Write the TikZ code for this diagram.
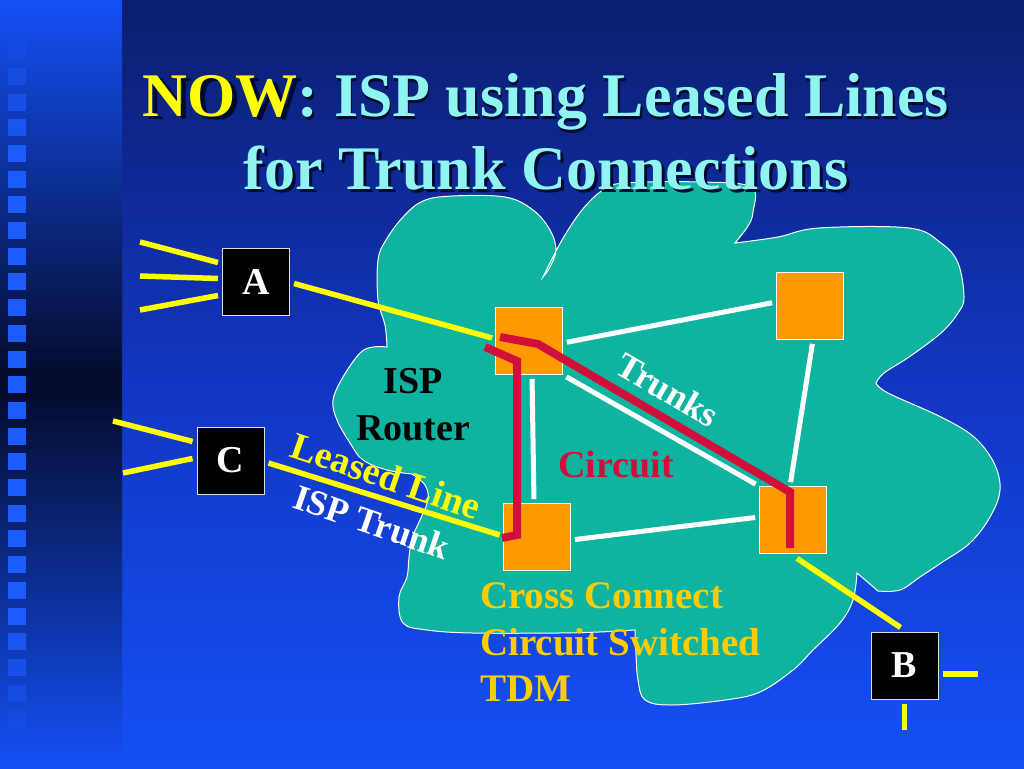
\documentclass[tikz,border=0pt]{standalone}
\usepackage{fontspec}
\setmainfont{Liberation Serif}
\usetikzlibrary{calc}
\definecolor{bgtop}{HTML}{0B1E6E}
\definecolor{bgmid}{HTML}{1236C2}
\definecolor{bgbot}{HTML}{1450F5}
\definecolor{stripbright}{HTML}{1450F5}
\definecolor{stripdark}{HTML}{040A28}
\definecolor{stripsq}{HTML}{1C5CFF}
\definecolor{cloudteal}{HTML}{0FB4A0}
\definecolor{sqorange}{HTML}{FF9900}
\definecolor{circred}{HTML}{D0103A}
\definecolor{yellowline}{HTML}{FFFF00}
\definecolor{titlecyan}{HTML}{90F4F0}
\definecolor{titleshadow}{HTML}{000A30}
\definecolor{goldtext}{HTML}{FFCC00}
\definecolor{boxborder}{HTML}{DDDDDD}
\begin{document}
\begin{tikzpicture}[x=1pt,y=-1pt,
  sq/.style={draw=white, line width=0.8pt, fill=sqorange, minimum size=67pt, inner sep=0pt},
  term/.style={draw=boxborder, line width=1pt, fill=black, minimum size=67pt, inner sep=0pt, text=white, font=\fontsize{38}{40}\selectfont\bfseries},
  trunk/.style={draw=white, line width=5pt, shorten <=4pt, shorten >=4pt},
  yel/.style={draw=yellowline, line width=5.5pt},
  circ/.style={draw=circred, line width=8pt, line join=miter},
  lbl/.style={font=\fontsize{38}{46}\selectfont\bfseries, inner sep=0pt},
  gold/.style={font=\fontsize{39}{46}\selectfont\bfseries, inner sep=0pt, text=goldtext, anchor=base west},
  ttl/.style={font=\fontsize{62}{74}\selectfont\bfseries, inner sep=0pt, anchor=base}]
\useasboundingbox (0,0) rectangle (1024,768);
% background
\shade[top color=bgtop, bottom color=bgbot, middle color=bgmid] (122,0) rectangle (1024,768);
\shade[top color=stripbright, bottom color=stripbright, middle color=stripdark] (0,0) rectangle (122,768);
\foreach \k in {-7,...,19}{
  \pgfmathsetmacro{\op}{min(1,min((\k+8)/5,(20-\k)/5))}
  \fill[stripsq, opacity=\op] (8,{222+25.7*\k}) rectangle (26,{239+25.7*\k});
}
% cloud
\draw[draw=white, line width=1pt, fill=cloudteal]
  plot[smooth, tension=0.6] coordinates {(387,347) (385,325) (378,300) (378,260) (386,240) (403,217) (423,201) (452,196) (505,197) (533,210) (550,230) (556,250) (550,267) (543,277)}
  -- plot[smooth, tension=0.6] coordinates {(543,277) (562,240) (582,210) (603,190) (625,183) (701,182) (751,187) (753,212) (748,226) (735,243)}
  -- plot[smooth, tension=0.6] coordinates {(735,243) (778,237) (819,228) (909,228) (941,243) (958,263) (964,297) (958,313) (941,333) (909,357) (884,373) (876,383)}
  -- plot[smooth, tension=0.6] coordinates {(876,383) (888,393) (941,417) (974,437) (994,463) (1000,490) (990,517) (970,543) (941,563) (920,577) (900,590) (878,591)}
  -- (857,573)
  -- plot[smooth, tension=0.6] coordinates {(857,573) (853,600) (840,623) (813,650) (793,670) (760,692) (725,700) (672,705) (645,700) (638,680) (636,655) (635,630)}
  -- plot[smooth, tension=0.6] coordinates {(635,630) (599,632) (558,633) (472,633) (427,630) (403,623) (399,597) (407,577) (409,557) (412,538) (420,520) (428,500) (425,485) (412,474)}
  -- plot[smooth, tension=0.6] coordinates {(412,474) (387,470) (363,460) (350,443) (337,420) (333,400) (343,377) (360,353) (373,347) (387,347)}
  -- cycle;
% title
\node[ttl, text=titleshadow] at (549,119) {NOW: ISP using Leased Lines};
\node[ttl, text=titlecyan] at (546,116) {\textcolor{yellowline}{NOW}: ISP using Leased Lines};
\node[ttl, text=titleshadow] at (549,192) {for Trunk Connections};
\node[ttl, text=titlecyan] at (546,189) {for Trunk Connections};
% switches
\node[sq] (isp) at (529,341) {};
\node[sq] (tr) at (810,306) {};
\node[sq] (bl) at (537,537) {};
\node[sq] (br) at (793,520) {};
% end systems
\node[term] (a) at (256,281.5) {A};
\node[term] (c) at (230.5,460.5) {C};
\node[term] (b) at (904.5,665.5) {B};
% trunks
\draw[trunk] ([shift={(0,2)}]isp.east) -- ([shift={(0,-4)}]tr.west);
\draw[trunk] ([shift={(3,0)}]isp.south) -- ([shift={(-3,0)}]bl.north);
\draw[trunk] (isp.south east) -- (br.north west);
\draw[trunk] ([shift={(3,0)}]tr.south) -- ([shift={(-3,0)}]br.north);
\draw[trunk] ([shift={(0,3)}]bl.east) -- ([shift={(0,-3)}]br.west);
% leased lines
\coordinate (a1) at (140,242);
\coordinate (a2) at (140,276);
\coordinate (a3) at (140,310);
\coordinate (c1) at (113,421);
\coordinate (c2) at (123,473);
\coordinate (b1) at (978,674);
\coordinate (b2) at (904.5,730);
\draw[yel] (a1) -- ([shift={(-4,-19)}]a.west);
\draw[yel] (a2) -- ([shift={(-4,-3)}]a.west);
\draw[yel] (a3) -- ([shift={(-4,14)}]a.west);
\draw[yel] ([shift={(4,2)}]a.east) -- ([shift={(-3,-3)}]isp.west);
\draw[yel] (c1) -- ([shift={(-4,-19)}]c.west);
\draw[yel] (c2) -- ([shift={(-4,-2)}]c.west);
\draw[yel] ([shift={(4,2.5)}]c.east) -- ([shift={(-3.5,-2)}]bl.west);
\draw[yel] ([shift={(4,4.5)}]br.south) -- ([shift={(-4,-4)}]b.north);
\draw[yel] ([shift={(4,8.5)}]b.east) -- (b1);
\draw[yel] ([shift={(0,4)}]b.south) -- (b2);
% circuit
\draw[circ] ([shift={(-44,6)}]isp.center) -- ([shift={(-12,20)}]isp.center) -- ([shift={(-20,-2)}]bl.center) -- ([shift={(-35,1)}]bl.center);
\draw[circ] ([shift={(-29,-4)}]isp.center) -- ([shift={(9,3)}]isp.center) -- ([shift={(-3,-28)}]br.center) -- ([shift={(-3,28)}]br.center);
% labels
\node[lbl, text=black, anchor=base] at (413,393) {ISP};
\node[lbl, text=black, anchor=base] at (413,440) {Router};
\node[lbl, text=white, rotate=-30, font=\fontsize{36}{40}\selectfont\bfseries] at (668,390) {Trunks};
\node[lbl, text=circred, anchor=base] at (616,477) {Circuit};
\node[lbl, text=yellowline, rotate=-19] at (386,476) {Leased Line};
\node[lbl, text=white, rotate=-19, font=\fontsize{36}{40}\selectfont\bfseries] at (372,522) {ISP Trunk};
\node[gold] at (480,608) {Cross Connect};
\node[gold] at (480,655) {Circuit Switched};
\node[gold] at (480,701) {TDM};
\end{tikzpicture}
\end{document}
